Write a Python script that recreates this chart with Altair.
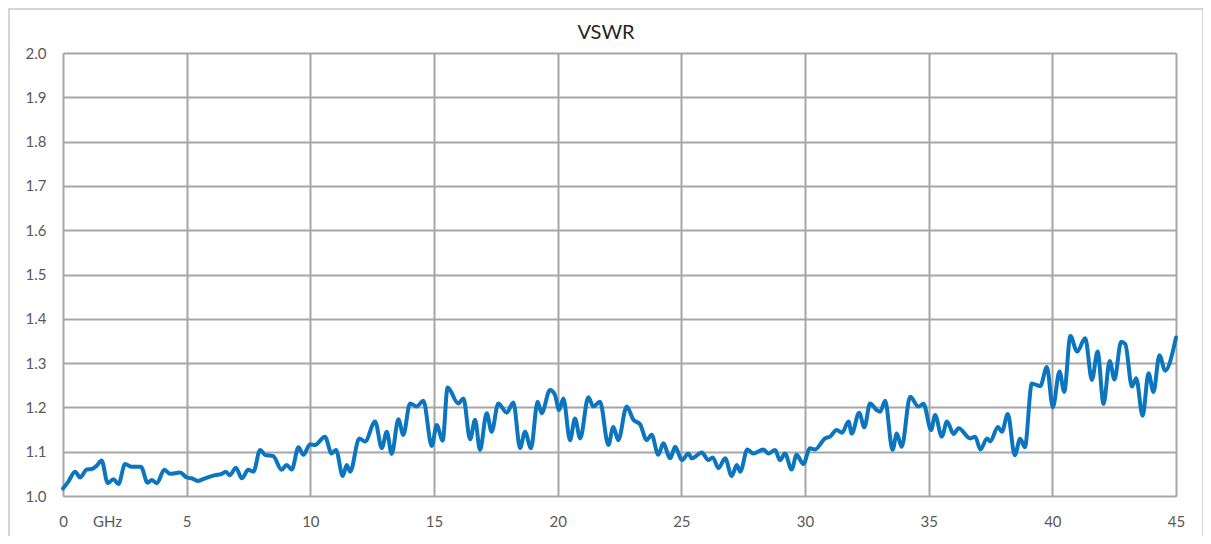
import altair as alt
import pandas as pd

ghz = [0.00, 0.21, 0.49, 0.69, 0.96, 1.16, 1.36, 1.56, 1.81, 2.04, 2.24, 2.51, 2.78, 3.15, 3.42, 3.59, 3.79,
       4.10, 4.33, 4.73, 5.00, 5.20, 5.45, 5.74, 6.15, 6.42, 6.58, 6.75, 6.99, 7.23, 7.49, 7.70,
       7.97, 8.17, 8.50, 8.84, 9.04, 9.25, 9.52, 9.72, 9.99, 10.19, 10.59, 10.86, 11.04, 11.31, 11.47, 11.61,
       11.98, 12.21, 12.62, 12.89, 13.09, 13.29, 13.56, 13.76, 14.03, 14.30, 14.57, 14.91, 15.11, 15.35, 15.55,
       15.98, 16.19, 16.46, 16.66, 16.86, 17.13, 17.33, 17.60, 17.94, 18.21, 18.48, 18.68, 18.92, 19.19, 19.35,
       19.69, 19.89, 20.06, 20.23, 20.50, 20.70, 20.91, 21.24, 21.44, 21.71, 22.05, 22.25, 22.45, 22.79, 23.06, 23.33,
       23.60, 23.80, 24.07, 24.27, 24.55, 24.75, 25.02, 25.29, 25.42, 25.83, 26.09, 26.27, 26.50, 26.77, 27.04,
       27.24, 27.38, 27.67, 27.91, 28.32, 28.52, 28.79, 28.99, 29.19, 29.46, 29.66, 29.93, 30.20, 30.40, 30.81,
       31.01, 31.28, 31.50, 31.76, 31.89, 32.19, 32.40, 32.63, 32.90, 33.04, 33.24, 33.54, 33.71, 33.91, 34.25,
       34.59, 34.79, 35.10, 35.26, 35.53, 35.74, 36.01, 36.21, 36.68, 36.88, 37.09, 37.36, 37.49, 37.80, 37.96,
       38.20, 38.48, 38.70, 38.89, 39.17, 39.51, 39.78, 40.02, 40.29, 40.48, 40.73, 41.00, 41.33, 41.60, 41.83,
       42.07, 42.32, 42.51, 42.78, 42.95, 43.22, 43.39, 43.65, 43.89, 44.09, 44.33, 44.56, 45.00]

vswr = [1.017, 1.032, 1.055, 1.042, 1.060, 1.061, 1.068, 1.080, 1.029, 1.038, 1.027, 1.072, 1.066, 1.066, 1.030, 1.036, 1.029,
        1.059, 1.050, 1.053, 1.042, 1.040, 1.034, 1.040, 1.047, 1.050, 1.055, 1.047, 1.064, 1.040, 1.059, 1.055,
        1.104, 1.093, 1.090, 1.059, 1.070, 1.060, 1.110, 1.093, 1.117, 1.115, 1.134, 1.096, 1.104, 1.045, 1.070, 1.055,
        1.130, 1.123, 1.168, 1.108, 1.145, 1.095, 1.173, 1.138, 1.209, 1.202, 1.215, 1.113, 1.160, 1.125, 1.245,
        1.209, 1.220, 1.128, 1.172, 1.104, 1.187, 1.145, 1.209, 1.188, 1.211, 1.108, 1.145, 1.108, 1.213, 1.187,
        1.239, 1.228, 1.194, 1.220, 1.126, 1.175, 1.130, 1.223, 1.202, 1.213, 1.115, 1.156, 1.126, 1.202, 1.172, 1.162,
        1.126, 1.138, 1.093, 1.119, 1.085, 1.111, 1.081, 1.096, 1.085, 1.098, 1.081, 1.087, 1.063, 1.085, 1.045,
        1.070, 1.055, 1.105, 1.096, 1.105, 1.096, 1.104, 1.081, 1.096, 1.060, 1.093, 1.072, 1.108, 1.105, 1.130,
        1.134, 1.149, 1.143, 1.168, 1.141, 1.188, 1.155, 1.209, 1.194, 1.190, 1.215, 1.104, 1.141, 1.111, 1.224,
        1.202, 1.208, 1.149, 1.183, 1.134, 1.168, 1.140, 1.153, 1.130, 1.134, 1.105, 1.130, 1.123, 1.156, 1.145,
        1.185, 1.092, 1.129, 1.110, 1.254, 1.248, 1.291, 1.200, 1.281, 1.235, 1.361, 1.326, 1.356, 1.262, 1.326,
        1.208, 1.305, 1.263, 1.348, 1.343, 1.247, 1.266, 1.181, 1.277, 1.235, 1.318, 1.283, 1.358]

x_ticks = [0, 5, 10, 15, 20, 25, 30, 35, 40, 45]
y_ticks = [1.0, 1.1, 1.2, 1.3, 1.4, 1.5, 1.6, 1.7, 1.8, 1.9, 2.0]

W, H = 1113, 443
FONT = "Lato"
GRID = "#a6a6a6"

df = pd.DataFrame({"ghz": ghz, "vswr": vswr})

line = alt.Chart(df).mark_line(
    color="#0b76bf", strokeWidth=4, interpolate="monotone", strokeJoin="round", strokeCap="round"
).encode(
    x=alt.X("ghz:Q", scale=alt.Scale(domain=[0, 45], nice=False, zero=False),
            axis=alt.Axis(values=x_ticks, title=None, grid=True, ticks=False, domain=False,
                          labelFlush=False, labelPadding=18, labelFontSize=15, labelColor="#595959",
                          labelFont=FONT, gridColor=GRID, gridWidth=2)),
    y=alt.Y("vswr:Q", scale=alt.Scale(domain=[1.0, 2.0], nice=False, zero=False),
            axis=alt.Axis(values=y_ticks, format=".1f", title=None, grid=True, ticks=False, domain=False,
                          labelFlush=False, labelPadding=17, labelFontSize=15, labelColor="#595959",
                          labelFont=FONT, gridColor=GRID, gridWidth=2)),
)

ghz_label = alt.Chart(pd.DataFrame({"t": ["GHz"]})).mark_text(
    font=FONT, fontSize=15, color="#595959", baseline="middle", align="center"
).encode(x=alt.datum(1.8), y=alt.value(H + 26), text="t:N")

title = alt.Chart(pd.DataFrame({"t": ["VSWR"]})).mark_text(
    font=FONT, fontSize=20, color="#262626", baseline="middle", align="center"
).encode(x=alt.value(543), y=alt.value(-20), text="t:N")

frame = alt.Chart(pd.DataFrame({"a": [0]})).mark_rect(
    filled=False, stroke="#c8c8c8", strokeWidth=1.5
).encode(x=alt.value(-54), x2=alt.value(1140), y=alt.value(-44), y2=alt.value(H + 80))

chart = alt.layer(frame, line, ghz_label, title).properties(
    width=W, height=H,
    autosize=alt.AutoSizeParams(type="none"),
    padding={"left": 55, "top": 45, "right": 27, "bottom": 40},
).configure_view(stroke=GRID, strokeWidth=2).configure(background="white")

chart.save("out.html", embed_options={"renderer": "svg", "actions": False})
